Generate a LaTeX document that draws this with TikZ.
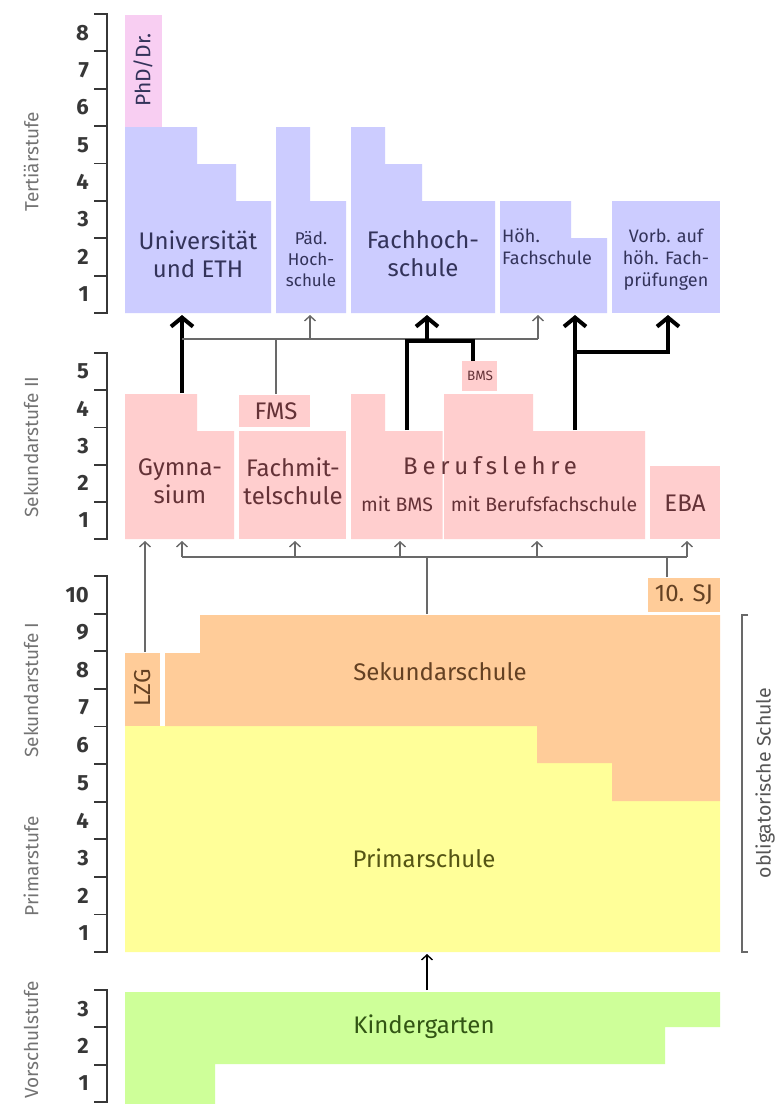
\documentclass[tikz,border=0pt]{standalone}
\usepackage{fontspec}
\setmainfont{Fira Sans}
\usetikzlibrary{arrows.meta}
\definecolor{blueF}{RGB}{204,204,255}
\definecolor{phdF}{RGB}{248,206,242}
\definecolor{pinkF}{RGB}{255,206,206}
\definecolor{orangeF}{RGB}{255,204,153}
\definecolor{yellowF}{RGB}{255,255,153}
\definecolor{greenF}{RGB}{206,255,153}
\definecolor{blueT}{RGB}{51,51,90}
\definecolor{pinkT}{RGB}{100,50,55}
\definecolor{orangeT}{RGB}{100,65,35}
\definecolor{yellowT}{RGB}{85,85,20}
\definecolor{greenT}{RGB}{50,85,20}
\definecolor{lineG}{RGB}{105,105,105}
\definecolor{scaleC}{RGB}{55,55,55}
\definecolor{stageC}{RGB}{115,115,115}
\tikzset{
  big/.style={align=center, inner sep=0pt, font=\fontsize{24}{28}\selectfont},
  small/.style={align=center, inner sep=0pt, font=\fontsize{18}{22}\selectfont},
  mid/.style={inner sep=0pt, font=\fontsize{19.5}{20}\selectfont},
  thinarr/.style={draw=lineG, line width=1.4pt, -{Straight Barb[length=5pt,width=11pt,line width=1.4pt]}},
  thinline/.style={draw=lineG, line width=1.4pt},
  blackarr/.style={draw=black, line width=1.4pt, -{Straight Barb[length=5pt,width=11pt,line width=1.4pt]}},
  thickarr/.style={draw=black, line width=4pt, -{Straight Barb[length=9pt,width=22pt,line width=4pt]}},
  thickline/.style={draw=black, line width=4pt},
  scaleline/.style={draw=scaleC, line width=1.8pt},
  num/.style={anchor=east, font=\fontsize{22}{22}\selectfont\bfseries, text=scaleC, inner sep=0pt},
  stage/.style={rotate=90, font=\fontsize{19}{19}\selectfont, text=stageC, inner sep=0pt},
}
\newcommand{\ladder}[4]{%
  \draw[scaleline] (94,#1) -- (107,#1) -- (107,#2) -- (94,#2);
  \foreach \k in {1,...,#3} {
    \pgfmathsetmacro\yy{#1+(#2-#1)*\k/#3}
    \pgfmathsetmacro\yc{#1+(#2-#1)*(\k-0.5)/#3}
    \pgfmathtruncatemacro\lab{#3-\k+1}
    \draw[scaleline] (94,\yy) -- (107,\yy);
    \node[num] (#4\k) at (89,\yc) {\lab};
  }
}
\begin{document}
\begin{tikzpicture}[x=1pt,y=-1pt]
\useasboundingbox (0,0) rectangle (775,1104);
\fill[white] (0,0) rectangle (775,1104);

% ---------- scales ----------
\ladder{14}{313}{8}{t}
\ladder{353}{539}{5}{s}
\ladder{576}{952}{10}{p}
\ladder{990}{1102}{3}{v}

\node[stage] (stT) at (31,162) {Tertiärstufe};
\node[stage] (stS2) at (31,447) {Sekundarstufe II};
\node[stage] (stS1) at (31,690) {Sekundarstufe I};
\node[stage] (stP) at (31,866) {Primarstufe};
\node[stage] (stV) at (31,1040) {Vorschulstufe};

% ---------- Tertiaerstufe ----------
\fill[phdF] (125,15) rectangle (162,127);
\fill[blueF] (125,313) -- (125,127) -- (197,127) -- (197,164) -- (236,164) -- (236,201) -- (271,201) -- (271,313) -- cycle;
\fill[blueF] (276,313) -- (276,127) -- (310,127) -- (310,201) -- (346,201) -- (346,313) -- cycle;
\fill[blueF] (351,313) -- (351,127) -- (385,127) -- (385,164) -- (422,164) -- (422,201) -- (495,201) -- (495,313) -- cycle;
\fill[blueF] (500,313) -- (500,201) -- (571,201) -- (571,238) -- (607,238) -- (607,313) -- cycle;
\fill[blueF] (612,201) rectangle (720,313);

\node[rotate=90, inner sep=0pt, text=blueT, font=\fontsize{21}{21}\selectfont] (phd) at (143,70) {PhD/Dr.};
\node[big, text=blueT] (uni) at (198,254) {Universität\\und ETH};
\node[small, text=blueT, font=\fontsize{17}{21}\selectfont] (paed) at (311,259) {Päd.\\Hoch-\\schule};
\node[big, text=blueT] (fh) at (423,254) {Fachhoch-\\schule};
\node[small, text=blueT, align=left, anchor=west] (hfs) at (502,247) {Höh.\\Fachschule};
\node[small, text=blueT] (vorb) at (666,260) {Vorb. auf\\höh. Fach-\\prüfungen};

% ---------- Sekundarstufe II ----------
\fill[pinkF] (125,539) -- (125,394) -- (197,394) -- (197,431) -- (234,431) -- (234,539) -- cycle;
\fill[pinkF] (239,395) rectangle (310,427);
\fill[pinkF] (239,431) rectangle (346,539);
\fill[pinkF] (351,539) -- (351,394) -- (385,394) -- (385,431) -- (442.5,431) -- (442.5,539) -- cycle;
\fill[pinkF] (444,539) -- (444,394) -- (533,394) -- (533,431) -- (645,431) -- (645,539) -- cycle;
\fill[pinkF] (462,361) rectangle (497,391);
\fill[pinkF] (650,466) rectangle (720,539);

\node[big, text=pinkT] (gym) at (180,481) {Gymna-\\sium};
\node[big, text=pinkT] (fms) at (293,481) {Fachmit-\\telschule};
\node[big, text=pinkT] (fmsl) at (276,411) {FMS};
\node[inner sep=0pt, text=pinkT, font=\fontsize{24}{24}\selectfont\addfontfeatures{LetterSpace=20}] (bl) at (490,466) {Berufslehre};
\node[mid, text=pinkT] (blbms) at (397,504) {mit BMS};
\node[mid, text=pinkT] (blbfs) at (544,504) {mit Berufsfachschule};
\node[inner sep=0pt, text=pinkT, font=\fontsize{13.5}{13.5}\selectfont] (bms) at (480,376) {BMS};
\node[big, text=pinkT] (eba) at (685,503) {EBA};

% ---------- Sekundarstufe I / Primar ----------
\fill[yellowF] (125,952) -- (125,726) -- (537,726) -- (537,763) -- (612,763) -- (612,801) -- (720,801) -- (720,952) -- cycle;
\fill[orangeF] (125,653) rectangle (160,726);
\fill[orangeF] (165,726) -- (165,653) -- (200,653) -- (200,615) -- (720,615) -- (720,801) -- (612,801) -- (612,763) -- (537,763) -- (537,726) -- cycle;
\fill[orangeF] (648,578) rectangle (720,612);

\node[rotate=90, inner sep=0pt, text=orangeT, font=\fontsize{23}{23}\selectfont] (lzg) at (143,688) {LZG};
\node[big, text=orangeT] (sek) at (440,672) {Sekundarschule};
\node[big, text=orangeT] (sj) at (684,595) {10. SJ};
\node[big, text=yellowT] (prim) at (424,858) {Primarschule};

% ---------- Vorschule ----------
\fill[greenF] (125,1104) -- (125,992) -- (720,992) -- (720,1027) -- (665,1027) -- (665,1064) -- (215,1064) -- (215,1104) -- cycle;
\node[big, text=greenT] (kg) at (424,1027) {Kindergarten};

% ---------- obligatorische Schule ----------
\draw[draw=lineG, line width=1.6pt] (748,615) -- (742,615) -- (742,952) -- (748,952);
\node[stage, text=scaleC!85, font=\fontsize{19.5}{19.5}\selectfont] (obl) at (765,783) {obligatorische Schule};

% ---------- connector points ----------
\coordinate (gymT) at (182,393);
\coordinate (uniB) at (182,315);
\coordinate (jL) at (182,339);
\coordinate (jR) at (538,339);
\coordinate (paedB) at (310,315);
\coordinate (paedJ) at (310,339);
\coordinate (hfsB) at (538,315);
\coordinate (fmsT) at (276,394);
\coordinate (fmsJ) at (276,339);
\coordinate (bmsblT) at (407,430);
\coordinate (bmsK1) at (407,341);
\coordinate (bmsK2) at (473,341);
\coordinate (bmsT) at (473,361);
\coordinate (fhJ) at (427,341);
\coordinate (fhB) at (427,315);
\coordinate (bfsT) at (575,430);
\coordinate (hfsB2) at (575,315);
\coordinate (bfsJ) at (575,352);
\coordinate (vorbK) at (668,352);
\coordinate (vorbB) at (668,315);

\draw[thickarr] (gymT) -- (uniB);
\draw[thinline] (jL) -- (jR);
\draw[thinarr] (paedJ) -- (paedB);
\draw[thinarr] (jR) -- (hfsB);
\draw[thinline] (fmsT) -- (fmsJ);
\draw[thickline] (bmsblT) -- (bmsK1) -- (bmsK2) -- (bmsT);
\draw[thickarr] (fhJ) -- (fhB);
\draw[thickarr] (bfsT) -- (hfsB2);
\draw[thickarr] (bfsJ) -- (vorbK) -- (vorbB);

% lower connectors
\coordinate (lzgT) at (145,652);
\coordinate (gymB1) at (145,541);
\coordinate (hL) at (182,557);
\coordinate (hR) at (687,557);
\coordinate (sekT) at (427,614);
\coordinate (sekJ) at (427,557);
\coordinate (sjT) at (667,577);
\coordinate (sjJ) at (667,557);
\draw[thinarr] (lzgT) -- (gymB1);
\draw[thinline] (hL) -- (hR);
\foreach \xx/\nm in {182/a,295/b,400/c,537/d,687/e} {
  \coordinate (up\nm) at (\xx,557);
  \coordinate (tp\nm) at (\xx,541);
  \draw[thinarr] (up\nm) -- (tp\nm);
}
\draw[thinline] (sekT) -- (sekJ);
\draw[thinline] (sjT) -- (sjJ);

\coordinate (kgT) at (427,990);
\coordinate (primB) at (427,954);
\draw[blackarr] (kgT) -- (primB);
\end{tikzpicture}
\end{document}
